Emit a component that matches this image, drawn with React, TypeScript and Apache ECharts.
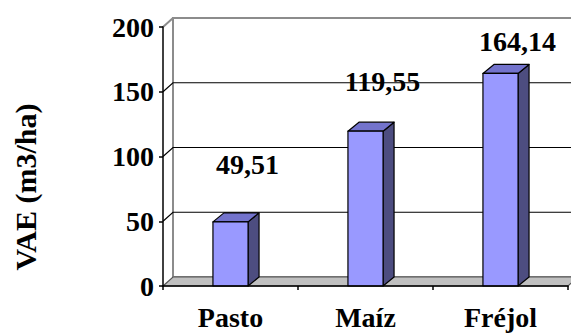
import React, { useEffect, useRef } from "react";
import * as echarts from "echarts";

const categories = ["Pasto", "Maíz", "Fréjol"];
const values = [49.51, 119.55, 164.14];
const yMin = 0;
const yMax = 200;
const yInterval = 50;
const yTitle = "VAE (m3/ha)";

const FONT = "Liberation Serif";
const WALL_DX = 10;
const WALL_DY = -9;
const BAR_DX = 11;
const BAR_DY = -9;
const labelLift = [57, 50, 32];

const fmt = (v: number) => v.toFixed(2).replace(".", ",");

export default function App() {
  const ref = useRef<HTMLDivElement>(null);
  useEffect(() => {
    if (!ref.current) return;
    const chart = echarts.init(ref.current, undefined, { renderer: "svg" });
    const gridTicks: number[] = [];
    for (let v = yMin; v <= yMax; v += yInterval) gridTicks.push(v);

    const option: any = {
      animation: false,
      backgroundColor: "#ffffff",
      grid: { left: 163, right: 3, top: 27, bottom: 50 },
      xAxis: {
        type: "category",
        data: categories,
        z: 10,
        axisLine: { show: true, lineStyle: { color: "#000", width: 1.5 } },
        axisTick: { show: true, length: 4, lineStyle: { color: "#000", width: 1.5 } },
        axisLabel: {
          color: "#000",
          fontFamily: FONT,
          fontWeight: "bold",
          fontSize: 28,
          margin: 17,
        },
        splitLine: { show: false },
      },
      yAxis: {
        type: "value",
        min: yMin,
        max: yMax,
        interval: yInterval,
        z: 10,
        axisLine: { show: true, lineStyle: { color: "#000", width: 1.5 } },
        axisTick: { show: true, length: 4, lineStyle: { color: "#000", width: 1.5 } },
        axisLabel: {
          color: "#000",
          fontFamily: FONT,
          fontWeight: "bold",
          fontSize: 28,
          margin: 9,
        },
        splitLine: { show: false },
      },
      graphic: [
        {
          type: "text",
          x: 25,
          y: 187,
          rotation: Math.PI / 2,
          style: {
            text: yTitle,
            fontFamily: FONT,
            fontWeight: "bold",
            fontSize: 30,
            fill: "#000",
            align: "center",
            verticalAlign: "middle",
          },
        },
      ],
      series: [
        {
          type: "custom",
          z: 1,
          silent: true,
          clip: false,
          data: [[0, 0]],
          renderItem: (params: any, api: any) => {
            const cs = params.coordSys;
            const x0 = cs.x;
            const x1 = cs.x + cs.width;
            const yTop = cs.y;
            const yBot = cs.y + cs.height;
            const children: any[] = [];
            children.push({
              type: "rect",
              shape: { x: x0 + WALL_DX, y: yTop + WALL_DY, width: x1 - x0, height: yBot - yTop },
              style: { fill: "#ffffff", stroke: "#8c8c8c", lineWidth: 2 },
            });
            children.push({
              type: "polygon",
              shape: {
                points: [
                  [x0, yBot],
                  [x0 + WALL_DX, yBot + WALL_DY],
                  [x1 + WALL_DX, yBot + WALL_DY],
                  [x1, yBot],
                ],
              },
              style: { fill: "#c0c0c0", stroke: "#555555", lineWidth: 1.2 },
            });
            children.push({
              type: "line",
              shape: { x1: x0, y1: yTop, x2: x0 + WALL_DX, y2: yTop + WALL_DY },
              style: { stroke: "#8c8c8c", lineWidth: 2 },
            });
            gridTicks.forEach((v) => {
              if (v === yMin || v === yMax) return;
              const y = api.coord([0, v])[1];
              children.push({
                type: "polyline",
                shape: {
                  points: [
                    [x0, y],
                    [x0 + WALL_DX, y + WALL_DY],
                    [x1 + WALL_DX, y + WALL_DY],
                  ],
                },
                style: { fill: "none", stroke: "#000", lineWidth: 1.2 },
              });
            });
            return { type: "group", children };
          },
        },
        {
          type: "custom",
          z: 3,
          clip: false,
          data: values.map((v, i) => [i, v]),
          renderItem: (params: any, api: any) => {
            const i = api.value(0);
            const v = api.value(1);
            const top = api.coord([i, v]);
            const base = api.coord([i, 0]);
            const catW = api.size([1, 0])[0];
            const w = catW * 0.26;
            const xl = top[0] - w / 2;
            const xr = top[0] + w / 2;
            const yt = top[1];
            const yb = base[1];
            const stroke = { stroke: "#000", lineWidth: 1.2, lineJoin: "round" };
            return {
              type: "group",
              children: [
                {
                  type: "polygon",
                  shape: {
                    points: [
                      [xr, yb],
                      [xr + BAR_DX, yb + BAR_DY],
                      [xr + BAR_DX, yt + BAR_DY],
                      [xr, yt],
                    ],
                  },
                  style: { fill: "#4d4d80", ...stroke },
                },
                {
                  type: "polygon",
                  shape: {
                    points: [
                      [xl, yt],
                      [xl + BAR_DX, yt + BAR_DY],
                      [xr + BAR_DX, yt + BAR_DY],
                      [xr, yt],
                    ],
                  },
                  style: { fill: "#7373cc", ...stroke },
                },
                {
                  type: "rect",
                  shape: { x: xl, y: yt, width: w, height: yb - yt },
                  style: { fill: "#9999ff", ...stroke },
                },
                {
                  type: "text",
                  x: top[0] + 17,
                  y: yt - labelLift[i],
                  style: {
                    text: fmt(v),
                    fontFamily: FONT,
                    fontWeight: "bold",
                    fontSize: 28,
                    fill: "#000",
                    align: "center",
                    verticalAlign: "middle",
                  },
                },
              ],
            };
          },
        },
      ],
    };
    chart.setOption(option);
    return () => chart.dispose();
  }, []);
  return (
    <div
      ref={ref}
      style={{ position: "fixed", left: 0, top: 0, width: 571, height: 336 }}
    />
  );
}
